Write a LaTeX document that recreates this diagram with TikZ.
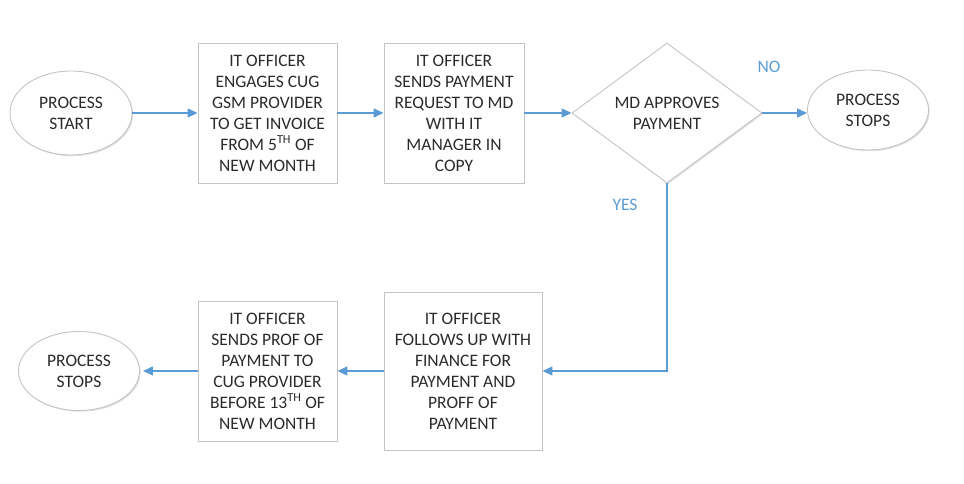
\documentclass[tikz,border=0pt]{standalone}
\usepackage{fontspec}
\setmainfont{Carlito}
\usetikzlibrary{shapes.geometric,arrows.meta,shadows}
\definecolor{arrowblue}{HTML}{5B9BD5}
\definecolor{bordergray}{HTML}{C4C4C4}
\definecolor{txt}{HTML}{2B2B2B}
\tikzset{
  base/.style={draw=bordergray, line width=0.9pt, fill=white, text=txt, align=center,
    font=\fontsize{17.5}{21}\selectfont, inner sep=0pt,
    drop shadow={shadow xshift=1.2pt, shadow yshift=-1.2pt, opacity=0.12, fill=black}},
  procbox/.style={base, rectangle},
  terminal/.style={base, ellipse},
  decision/.style={base, diamond},
  flow/.style={draw=arrowblue, line width=1.4pt, -{Triangle[length=10pt,width=9pt]}},
  flowline/.style={draw=arrowblue, line width=1.4pt},
  branchlabel/.style={text=arrowblue, font=\fontsize{17.5}{21}\selectfont, inner sep=0pt}
}
\begin{document}
\begin{tikzpicture}[x=1pt,y=-1pt]
\useasboundingbox (0,0) rectangle (964,484);
\node[terminal, minimum width=122pt, minimum height=84pt] (start) at (71,113) {PROCESS\\START};
\node[procbox, minimum width=139pt, minimum height=140pt] (b1) at (267.5,113) {IT OFFICER\\ENGAGES CUG\\GSM PROVIDER\\TO GET INVOICE\\FROM 5\textsuperscript{TH} OF\\NEW MONTH};
\node[procbox, minimum width=140pt, minimum height=140pt] (b2) at (454,113) {IT OFFICER\\SENDS PAYMENT\\REQUEST TO MD\\WITH IT\\MANAGER IN\\COPY};
\node[decision, minimum width=190pt, minimum height=140pt, aspect=1.357] (dia) at (667,113) {MD APPROVES\\PAYMENT};
\node[terminal, minimum width=121pt, minimum height=80pt] (stop1) at (868,110) {PROCESS\\STOPS};
\node[procbox, minimum width=158pt, minimum height=158pt] (b3) at (463,371) {IT OFFICER\\FOLLOWS UP WITH\\FINANCE FOR\\PAYMENT AND\\PROFF OF\\PAYMENT};
\node[procbox, minimum width=139pt, minimum height=140pt] (b4) at (267.5,371) {IT OFFICER\\SENDS PROF OF\\PAYMENT TO\\CUG PROVIDER\\BEFORE 13\textsuperscript{TH} OF\\NEW MONTH};
\node[terminal, minimum width=121pt, minimum height=79pt] (stop2) at (79,371) {PROCESS\\STOPS};
\node[branchlabel] (no) at (769,67) {NO};
\node[branchlabel] (yes) at (625,205) {YES};
\draw[flow] (start) -- (b1);
\draw[flow] (b1) -- (b2);
\draw[flow] (b2) -- (dia);
\draw[flow] (dia.east) -- (dia.east -| stop1.west);
\draw[flow] (dia.south) -- (dia.south |- b3.east) -- (b3.east);
\draw[flow] (b3) -- (b4);
\draw[flow] (b4.west) -- ([xshift=3pt]stop2.east);
\end{tikzpicture}
\end{document}
